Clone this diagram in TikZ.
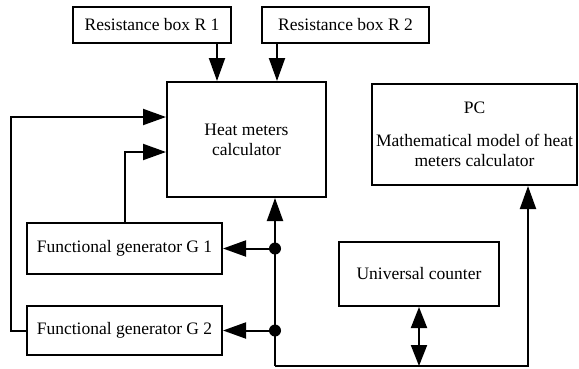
\documentclass[tikz,border=0pt]{standalone}
\usepackage{fontspec}
\setmainfont{Liberation Serif}
\usetikzlibrary{arrows.meta,positioning,calc}

\begin{document}
\begin{tikzpicture}[x=1pt,y=-1pt,
    box/.style={draw,line width=2pt,align=center,inner sep=2pt,font=\fontsize{17.5}{20}\selectfont},
    arr/.style={-{Triangle[length=23pt,width=16pt]},line width=2pt},
    dblarr/.style={{Triangle[length=21pt,width=16pt]}-{Triangle[length=21pt,width=16pt]},line width=2pt},
    junction/.style={circle,fill,inner sep=0pt,minimum size=12pt}]
  \useasboundingbox (0,0) rectangle (579,368);
  \node[box,minimum width=158pt,minimum height=36pt] (r1) at (152,25) {Resistance box R 1};
  \node[box,minimum width=167pt,minimum height=36pt] (r2) at (345.5,25) {Resistance box R 2};
  \node[box,minimum width=159pt,minimum height=115pt] (calc) at (246.5,139.5) {Heat meters\\calculator};
  \node[box,minimum width=205pt,minimum height=101pt] (pc) at (474.5,134.5) {PC\\[13pt]Mathematical model of heat\\meters calculator};
  \node[box,minimum width=195pt,minimum height=51pt] (g1) at (124.5,248.5) {Functional generator G 1};
  \node[box,minimum width=195pt,minimum height=49pt] (g2) at (124.5,330.5) {Functional generator G 2};
  \node[box,minimum width=160pt,minimum height=64pt] (counter) at (419,274) {Universal counter};
  \coordinate (bus) at (275,366);
  \draw[arr] ([xshift=-15pt]r1.south east) coordinate (a1) -- (a1 |- calc.north);
  \draw[arr] ([xshift=16pt]r2.south west) coordinate (a2) -- (a2 |- calc.north);
  \draw[arr] (g2.west) -- ++(-15,0) |- ([yshift=22.5pt]calc.west);
  \draw[arr] (g1.north) |- ([yshift=-12.5pt]calc.west);
  \draw[arr] (bus) -- (bus |- calc.south);
  \node[junction] (j1) at (bus |- g1.east) {};
  \node[junction] (j2) at (bus |- g2.east) {};
  \draw[arr] (j1.center) -- (g1.east);
  \draw[arr] (j2.center) -- (g2.east);
  \draw[arr] (bus) -| ([xshift=53.5pt]pc.south);
  \draw[dblarr] (counter.south) -- (counter.south |- bus);
\end{tikzpicture}
\end{document}
